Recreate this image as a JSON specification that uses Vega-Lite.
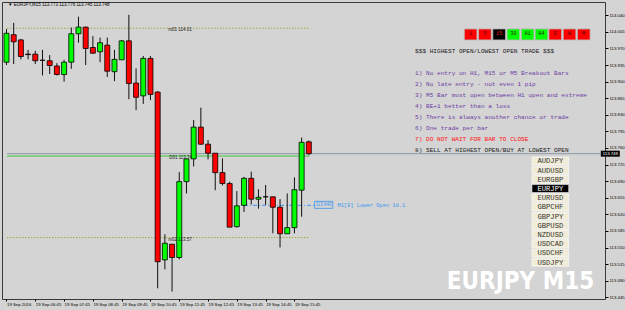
{
  "$schema": "https://vega.github.io/schema/vega-lite/v6.json",
  "width": 603,
  "height": 297,
  "autosize": {"type": "none"},
  "padding": {"left": 2, "top": 2, "right": 20, "bottom": 11},
  "background": "#D4D4D4",
  "view": {"fill": "#D4D4D4", "stroke": "#3a3a3a", "strokeWidth": 1},
  "config": {
    "font": "Liberation Sans",
    "text": {"font": "Liberation Sans"},
    "axis": {"title": null, "grid": false, "domain": false, "labelColor": "#000", "tickColor": "#000", "labelFontSize": 4.3, "labelPadding": 1, "labelOverlap": false, "labelFlush": false, "labelBound": false}
  },
  "datasets": {
    "candles": [
      {"i": 0, "time": "19 Sep 05:45", "o": 113.941, "h": 114.011, "l": 113.935, "c": 114.002},
      {"i": 1, "time": "19 Sep 06:00", "o": 113.999, "h": 114.024, "l": 113.937, "c": 113.984},
      {"i": 2, "time": "19 Sep 06:15", "o": 113.988, "h": 113.990, "l": 113.947, "c": 113.953},
      {"i": 3, "time": "19 Sep 06:30", "o": 113.958, "h": 113.967, "l": 113.947, "c": 113.957},
      {"i": 4, "time": "19 Sep 06:45", "o": 113.958, "h": 113.965, "l": 113.937, "c": 113.944},
      {"i": 5, "time": "19 Sep 07:00", "o": 113.945, "h": 113.967, "l": 113.913, "c": 113.945},
      {"i": 6, "time": "19 Sep 07:15", "o": 113.944, "h": 113.956, "l": 113.916, "c": 113.934},
      {"i": 7, "time": "19 Sep 07:30", "o": 113.933, "h": 113.939, "l": 113.913, "c": 113.915},
      {"i": 8, "time": "19 Sep 07:45", "o": 113.915, "h": 113.946, "l": 113.900, "c": 113.941},
      {"i": 9, "time": "19 Sep 08:00", "o": 113.941, "h": 114.014, "l": 113.927, "c": 114.001},
      {"i": 10, "time": "19 Sep 08:15", "o": 114.001, "h": 114.037, "l": 113.982, "c": 114.015},
      {"i": 11, "time": "19 Sep 08:30", "o": 114.015, "h": 114.016, "l": 113.935, "c": 113.970},
      {"i": 12, "time": "19 Sep 08:45", "o": 113.972, "h": 113.996, "l": 113.959, "c": 113.960},
      {"i": 13, "time": "19 Sep 09:00", "o": 113.963, "h": 113.993, "l": 113.941, "c": 113.982},
      {"i": 14, "time": "19 Sep 09:15", "o": 113.977, "h": 113.993, "l": 113.910, "c": 113.922},
      {"i": 15, "time": "19 Sep 09:30", "o": 113.921, "h": 113.967, "l": 113.901, "c": 113.947},
      {"i": 16, "time": "19 Sep 09:45", "o": 113.946, "h": 113.988, "l": 113.946, "c": 113.986},
      {"i": 17, "time": "19 Sep 10:00", "o": 113.986, "h": 114.041, "l": 113.863, "c": 113.896},
      {"i": 18, "time": "19 Sep 10:15", "o": 113.897, "h": 113.928, "l": 113.840, "c": 113.867},
      {"i": 19, "time": "19 Sep 10:30", "o": 113.870, "h": 113.954, "l": 113.853, "c": 113.949},
      {"i": 20, "time": "19 Sep 10:45", "o": 113.949, "h": 113.954, "l": 113.861, "c": 113.873},
      {"i": 21, "time": "19 Sep 11:00", "o": 113.878, "h": 113.880, "l": 113.464, "c": 113.520},
      {"i": 22, "time": "19 Sep 11:15", "o": 113.524, "h": 113.578, "l": 113.504, "c": 113.559},
      {"i": 23, "time": "19 Sep 11:30", "o": 113.557, "h": 113.557, "l": 113.457, "c": 113.529},
      {"i": 24, "time": "19 Sep 11:45", "o": 113.529, "h": 113.709, "l": 113.525, "c": 113.689},
      {"i": 25, "time": "19 Sep 12:00", "o": 113.689, "h": 113.738, "l": 113.664, "c": 113.737},
      {"i": 26, "time": "19 Sep 12:15", "o": 113.737, "h": 113.819, "l": 113.721, "c": 113.804},
      {"i": 27, "time": "19 Sep 12:30", "o": 113.804, "h": 113.845, "l": 113.767, "c": 113.768},
      {"i": 28, "time": "19 Sep 12:45", "o": 113.768, "h": 113.777, "l": 113.736, "c": 113.749},
      {"i": 29, "time": "19 Sep 13:00", "o": 113.749, "h": 113.749, "l": 113.671, "c": 113.708},
      {"i": 30, "time": "19 Sep 13:15", "o": 113.708, "h": 113.738, "l": 113.681, "c": 113.685},
      {"i": 31, "time": "19 Sep 13:30", "o": 113.685, "h": 113.689, "l": 113.593, "c": 113.593},
      {"i": 32, "time": "19 Sep 13:45", "o": 113.594, "h": 113.669, "l": 113.592, "c": 113.638},
      {"i": 33, "time": "19 Sep 14:00", "o": 113.639, "h": 113.699, "l": 113.625, "c": 113.696},
      {"i": 34, "time": "19 Sep 14:15", "o": 113.696, "h": 113.710, "l": 113.641, "c": 113.652},
      {"i": 35, "time": "19 Sep 14:30", "o": 113.652, "h": 113.673, "l": 113.632, "c": 113.656},
      {"i": 36, "time": "19 Sep 14:45", "o": 113.657, "h": 113.682, "l": 113.640, "c": 113.657},
      {"i": 37, "time": "19 Sep 15:00", "o": 113.657, "h": 113.657, "l": 113.580, "c": 113.635},
      {"i": 38, "time": "19 Sep 15:15", "o": 113.635, "h": 113.652, "l": 113.550, "c": 113.579},
      {"i": 39, "time": "19 Sep 15:30", "o": 113.579, "h": 113.664, "l": 113.579, "c": 113.592},
      {"i": 40, "time": "19 Sep 15:45", "o": 113.592, "h": 113.698, "l": 113.580, "c": 113.672},
      {"i": 41, "time": "19 Sep 16:00", "o": 113.671, "h": 113.782, "l": 113.615, "c": 113.772},
      {"i": 42, "time": "19 Sep 16:15", "o": 113.773, "h": 113.776, "l": 113.745, "c": 113.748}
    ],
    "hlines": [
      {"kind": "m", "name": "m01", "from": 0.07, "to": 42.1, "p": 114.0126},
      {"kind": "m", "name": "m02", "from": 0.07, "to": 42.1, "p": 113.571},
      {"kind": "d", "name": "D01", "from": 0.07, "to": 42.1, "p": 113.743},
      {"kind": "bid", "name": "bid", "from": 0.07, "to": 82.45, "p": 113.748},
      {"kind": "lo", "name": "M1 lower open", "from": 33.0, "to": 42.9, "p": 113.639}
    ],
    "linelabels": [
      {"x": 22.47, "p": 114.008, "label": "m01   114.01"},
      {"x": 22.6, "p": 113.738, "label": "D01   113.74"},
      {"x": 22.47, "p": 113.566, "label": "m02   113.57"}
    ],
    "notes": [
      {"x": 56.76, "p": 113.965, "label": "$$$ HIGHEST OPEN/LOWEST OPEN TRADE $$$", "group": "header"},
      {"x": 56.76, "p": 113.919, "label": "1) No entry on H1, M15 or M5 Breakout Bars", "group": "rule"},
      {"x": 56.76, "p": 113.895, "label": "2) No late entry - not even 1 pip", "group": "rule"},
      {"x": 56.76, "p": 113.872, "label": "3) M5 Bar must open between H1 open and extreme", "group": "rule"},
      {"x": 56.76, "p": 113.849, "label": "4) BE+1 better than a loss", "group": "rule"},
      {"x": 56.76, "p": 113.825, "label": "5) There is always another chance or trade", "group": "rule"},
      {"x": 56.76, "p": 113.802, "label": "6) One trade per bar", "group": "rule"},
      {"x": 56.76, "p": 113.779, "label": "7) DO NOT WAIT FOR BAR TO CLOSE", "group": "warning"},
      {"x": 56.76, "p": 113.756, "label": "8) SELL AT HIGHEST OPEN/BUY AT LOWEST OPEN", "group": "action"}
    ],
    "timeframes": [
      {"x": 64.48, "p": 113.9995, "tf": "1", "state": "down"},
      {"x": 66.46, "p": 113.9995, "tf": "5", "state": "down"},
      {"x": 68.44, "p": 113.9995, "tf": "15", "state": "active"},
      {"x": 70.42, "p": 113.9995, "tf": "30", "state": "up"},
      {"x": 72.40, "p": 113.9995, "tf": "H1", "state": "up"},
      {"x": 74.32, "p": 113.9995, "tf": "H4", "state": "up"},
      {"x": 76.23, "p": 113.9995, "tf": "D", "state": "down"},
      {"x": 78.22, "p": 113.9995, "tf": "W", "state": "down"},
      {"x": 80.19, "p": 113.9995, "tf": "M", "state": "down"}
    ],
    "pairs": [
      {"x": 75.55, "p": 113.7326, "pair": "AUDJPY", "active": false},
      {"x": 75.55, "p": 113.7132, "pair": "AUDUSD", "active": false},
      {"x": 75.55, "p": 113.6938, "pair": "EURGBP", "active": false},
      {"x": 75.55, "p": 113.6743, "pair": "EURJPY", "active": true},
      {"x": 75.55, "p": 113.6549, "pair": "EURUSD", "active": false},
      {"x": 75.55, "p": 113.6355, "pair": "GBPCHF", "active": false},
      {"x": 75.55, "p": 113.6161, "pair": "GBPJPY", "active": false},
      {"x": 75.55, "p": 113.5967, "pair": "GBPUSD", "active": false},
      {"x": 75.55, "p": 113.5773, "pair": "NZDUSD", "active": false},
      {"x": 75.55, "p": 113.5579, "pair": "USDCAD", "active": false},
      {"x": 75.55, "p": 113.5385, "pair": "USDCHF", "active": false},
      {"x": 75.55, "p": 113.5191, "pair": "USDJPY", "active": false}
    ],
    "lowopen": [
      {"x": 44.06, "x2": 45.97, "p": 113.640, "value": "113.640", "label": "M1[9] Lower Open 18.1"}
    ],
    "watermark": [{"x": 71.4, "p": 113.4625, "label": "EURJPY M15"}],
    "info": [{"x": 0.2, "p": 114.0618, "label": "▼ EURJPY,M15  113.773 113.776 113.745 113.748"}],
    "bid": [{"x": 83.88, "p": 113.748, "label": "113.748"}]
  },
  "layer": [
    {
      "data": {"name": "hlines"},
      "transform": [{"filter": "datum.kind == 'bid'"}],
      "mark": {"type": "rule", "stroke": "#8A97A3", "strokeWidth": 1},
      "encoding": {
        "x": {"field": "from", "type": "quantitative", "title": null,
          "scale": {"domain": [0.07, 82.45], "nice": false, "zero": false},
          "axis": {"orient": "bottom", "values": [0, 4, 8, 12, 16, 20, 24, 28, 32, 36, 40], "tickCount": 100,
            "labelExpr": "datum.value == 0 ? '19 Sep 2016' : '19 Sep ' + format(floor(5.75 + datum.value / 4), '02d') + ':45'",
            "labelAlign": "left", "tickSize": 2}},
        "x2": {"field": "to"},
        "y": {"field": "p", "type": "quantitative", "title": null,
          "scale": {"domain": [113.4414, 114.068], "nice": false, "zero": false},
          "axis": {"orient": "right", "values": [113.445, 113.48, 113.515, 113.55, 113.585, 113.62, 113.655, 113.69, 113.725, 113.76, 113.795, 113.83, 113.865, 113.9, 113.935, 113.97, 114.005, 114.04], "tickCount": 100,
            "format": ".3f", "tickSize": 3, "labelBaseline": "middle"}}
      }
    },
    {
      "data": {"name": "hlines"},
      "transform": [{"filter": "datum.kind == 'm'"}],
      "mark": {"type": "rule", "stroke": "#A6A640", "strokeWidth": 1, "strokeDash": [1.5, 1.5]},
      "encoding": {
        "x": {"field": "from", "type": "quantitative", "title": null},
        "x2": {"field": "to"},
        "y": {"field": "p", "type": "quantitative", "title": null}
      }
    },
    {
      "data": {"name": "hlines"},
      "transform": [{"filter": "datum.kind == 'd'"}],
      "mark": {"type": "rule", "stroke": "#3CC83C", "strokeWidth": 1},
      "encoding": {
        "x": {"field": "from", "type": "quantitative", "title": null},
        "x2": {"field": "to"},
        "y": {"field": "p", "type": "quantitative", "title": null}
      }
    },
    {
      "data": {"name": "hlines"},
      "transform": [{"filter": "datum.kind == 'lo'"}],
      "mark": {"type": "rule", "stroke": "#3C96F0", "strokeWidth": 1, "strokeDash": [4, 2, 1, 2]},
      "encoding": {
        "x": {"field": "from", "type": "quantitative", "title": null},
        "x2": {"field": "to"},
        "y": {"field": "p", "type": "quantitative", "title": null}
      }
    },
    {
      "data": {"name": "candles"},
      "mark": {"type": "rule", "stroke": "#111", "strokeWidth": 1, "clip": true},
      "encoding": {
        "x": {"field": "i", "type": "quantitative", "title": null},
        "y": {"field": "l", "type": "quantitative", "title": null},
        "y2": {"field": "h"}
      }
    },
    {
      "data": {"name": "candles"},
      "mark": {"type": "bar", "width": 5, "stroke": "#000", "strokeWidth": 0.8, "clip": true},
      "encoding": {
        "x": {"field": "i", "type": "quantitative", "title": null},
        "y": {"field": "o", "type": "quantitative", "title": null},
        "y2": {"field": "c"},
        "fill": {"condition": {"test": "datum.c >= datum.o", "value": "#00FF00"}, "value": "#FF0000"}
      }
    },
    {
      "data": {"name": "linelabels"},
      "mark": {"type": "text", "align": "left", "baseline": "middle", "fontSize": 4.5, "fill": "#222"},
      "encoding": {
        "x": {"field": "x", "type": "quantitative", "title": null},
        "y": {"field": "p", "type": "quantitative", "title": null},
        "text": {"field": "label"}
      }
    },
    {
      "data": {"name": "lowopen"},
      "mark": {"type": "point", "shape": "M-2.6,-1H2.6V1H-2.6Z", "size": 49, "filled": true, "fill": "#D4D4D4", "stroke": "#3C96F0", "strokeWidth": 0.8, "opacity": 1},
      "encoding": {
        "x": {"field": "x", "type": "quantitative", "title": null},
        "y": {"field": "p", "type": "quantitative", "title": null}
      }
    },
    {
      "data": {"name": "lowopen"},
      "mark": {"type": "text", "align": "center", "baseline": "middle", "fontSize": 4.5, "fill": "#3C96F0"},
      "encoding": {
        "x": {"field": "x", "type": "quantitative", "title": null},
        "y": {"field": "p", "type": "quantitative", "title": null},
        "text": {"field": "value"}
      }
    },
    {
      "data": {"name": "lowopen"},
      "mark": {"type": "text", "align": "left", "baseline": "middle", "fontSize": 5.4, "font": "Liberation Mono", "fill": "#3C96F0"},
      "encoding": {
        "x": {"field": "x2", "type": "quantitative", "title": null},
        "y": {"field": "p", "type": "quantitative", "title": null},
        "text": {"field": "label"}
      }
    },
    {
      "data": {"name": "notes"},
      "mark": {"type": "text", "align": "left", "baseline": "middle", "fontSize": 6.1, "font": "Liberation Mono"},
      "encoding": {
        "x": {"field": "x", "type": "quantitative", "title": null},
        "y": {"field": "p", "type": "quantitative", "title": null},
        "text": {"field": "label"},
        "fill": {"condition": [{"test": "datum.group == 'rule'", "value": "#6E3CA5"}, {"test": "datum.group == 'warning'", "value": "#FF1010"}], "value": "#1A1A1A"}
      }
    },
    {
      "data": {"name": "timeframes"},
      "mark": {"type": "point", "shape": "M-1.15,-1H1.15V1H-1.15Z", "size": 121, "filled": true, "stroke": "#B8B8B8", "strokeWidth": 0.8, "opacity": 1},
      "encoding": {
        "x": {"field": "x", "type": "quantitative", "title": null},
        "y": {"field": "p", "type": "quantitative", "title": null},
        "fill": {"condition": [{"test": "datum.state == 'up'", "value": "#00FF00"}, {"test": "datum.state == 'active'", "value": "#000000"}], "value": "#FF0000"}
      }
    },
    {
      "data": {"name": "timeframes"},
      "mark": {"type": "text", "align": "center", "baseline": "middle", "fontSize": 4.8, "font": "Liberation Mono"},
      "encoding": {
        "x": {"field": "x", "type": "quantitative", "title": null},
        "y": {"field": "p", "type": "quantitative", "title": null},
        "text": {"field": "tf"},
        "fill": {"condition": {"test": "datum.state == 'active'", "value": "#FF2020"}, "value": "#3A1010"}
      }
    },
    {
      "data": {"name": "pairs"},
      "mark": {"type": "point", "shape": "M-4.6,-1H4.6V1H-4.6Z", "size": 64, "filled": true, "stroke": "#FFFFFF", "strokeWidth": 0.6, "opacity": 1},
      "encoding": {
        "x": {"field": "x", "type": "quantitative", "title": null},
        "y": {"field": "p", "type": "quantitative", "title": null},
        "fill": {"condition": {"test": "datum.active", "value": "#000000"}, "value": "#F0ECD8"}
      }
    },
    {
      "data": {"name": "pairs"},
      "mark": {"type": "text", "align": "center", "baseline": "middle", "fontSize": 7.2, "font": "Liberation Mono", "dy": 0.5},
      "encoding": {
        "x": {"field": "x", "type": "quantitative", "title": null},
        "y": {"field": "p", "type": "quantitative", "title": null},
        "text": {"field": "pair"},
        "fill": {"condition": {"test": "datum.active", "value": "#FFFFFF"}, "value": "#333333"}
      }
    },
    {
      "data": {"name": "watermark"},
      "mark": {"type": "text", "align": "center", "baseline": "alphabetic", "fontSize": 24, "fontWeight": "bold", "font": "DejaVu Sans Condensed", "fill": "#FFFFFF"},
      "encoding": {
        "x": {"field": "x", "type": "quantitative", "title": null},
        "y": {"field": "p", "type": "quantitative", "title": null},
        "text": {"field": "label"}
      }
    },
    {
      "data": {"name": "info"},
      "mark": {"type": "text", "align": "left", "baseline": "middle", "fontSize": 4.5, "fill": "#000"},
      "encoding": {
        "x": {"field": "x", "type": "quantitative", "title": null},
        "y": {"field": "p", "type": "quantitative", "title": null},
        "text": {"field": "label"}
      }
    },
    {
      "data": {"name": "bid"},
      "mark": {"type": "point", "shape": "M-1.9,-0.6H1.9V0.6H-1.9Z", "size": 100, "filled": true, "fill": "#000", "opacity": 1, "strokeWidth": 0},
      "encoding": {
        "x": {"field": "x", "type": "quantitative", "title": null},
        "y": {"field": "p", "type": "quantitative", "title": null}
      }
    },
    {
      "data": {"name": "bid"},
      "mark": {"type": "text", "align": "center", "baseline": "middle", "fontSize": 4.3, "fill": "#FFFFFF"},
      "encoding": {
        "x": {"field": "x", "type": "quantitative", "title": null},
        "y": {"field": "p", "type": "quantitative", "title": null},
        "text": {"field": "label"}
      }
    }
  ]
}
